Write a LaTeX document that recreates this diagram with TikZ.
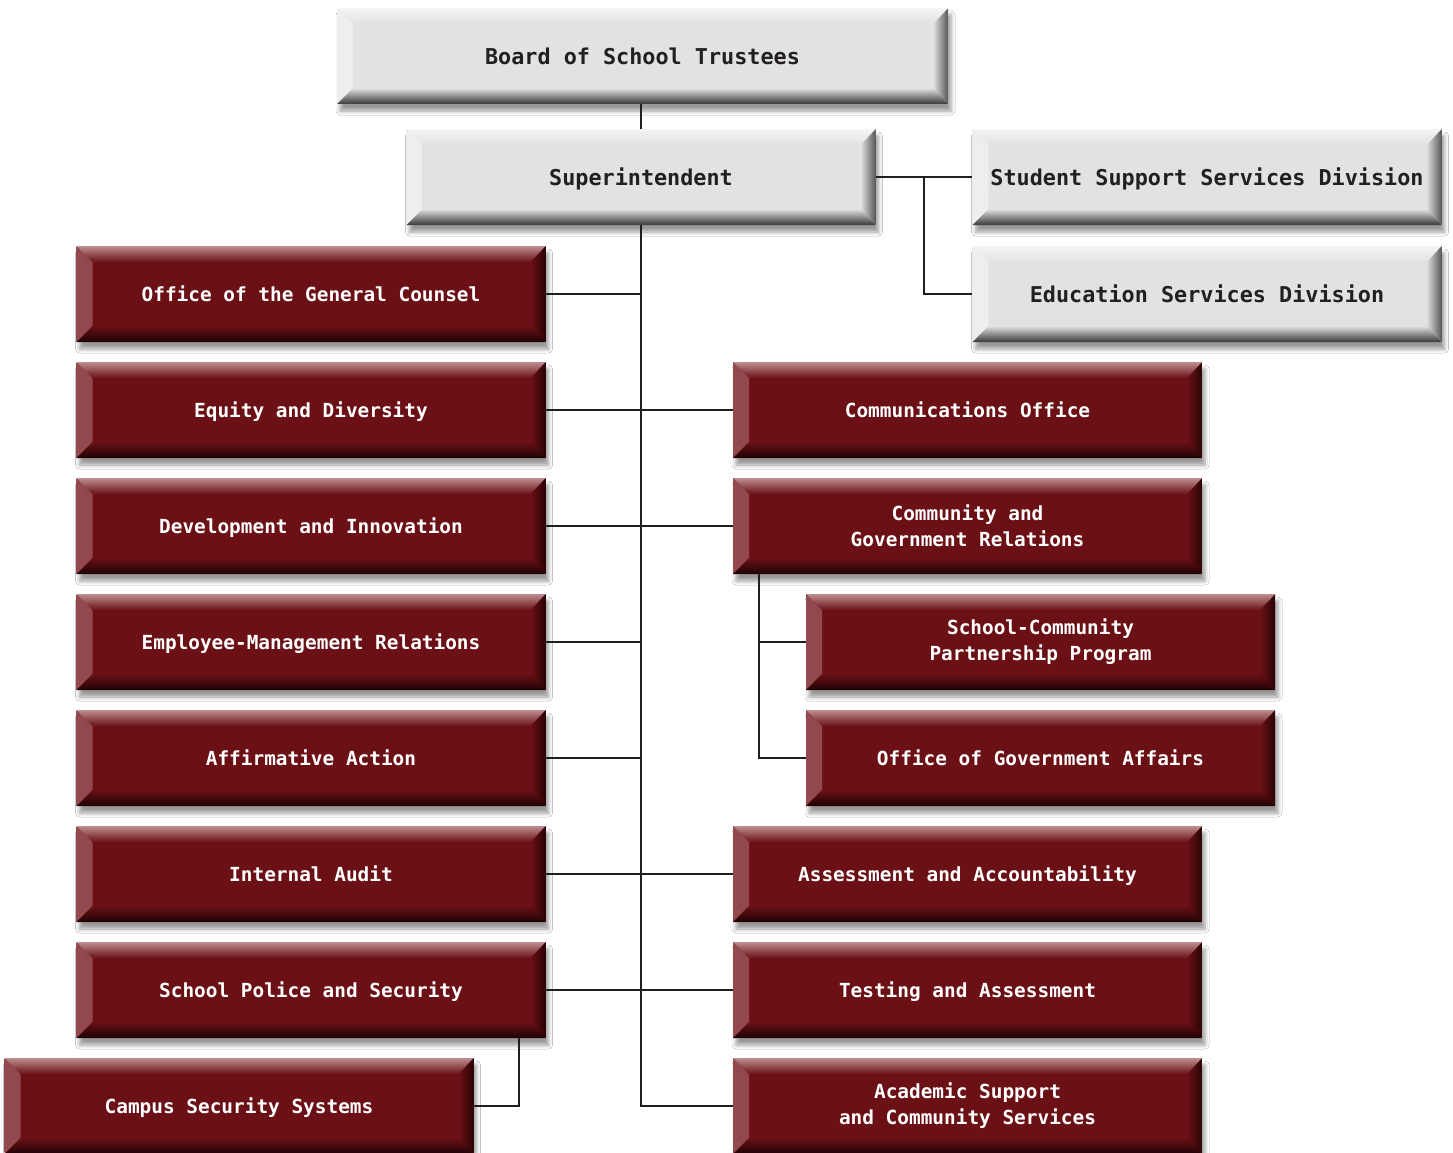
\documentclass[tikz,border=0pt]{standalone}
\usepackage{fontspec}
\setmonofont{DejaVu Sans Mono}
\usetikzlibrary{calc,shadows.blur}
\definecolor{rmain}{HTML}{6B1116}
\definecolor{rtop}{HTML}{BC8E90}
\definecolor{rleft}{HTML}{934A4E}
\definecolor{rbot}{HTML}{1E0204}
\definecolor{rright}{HTML}{2A0306}
\definecolor{gmain}{HTML}{E1E2E4}
\definecolor{gtop}{HTML}{F4F4F5}
\definecolor{gleft}{HTML}{EEEEEF}
\definecolor{gbot}{HTML}{38373A}
\definecolor{gright}{HTML}{58575A}
\definecolor{ink}{HTML}{231F20}
\tikzset{
  bevel/.style n args={5}{
    fill=#1, draw=none, rectangle, inner sep=0pt,
    blur shadow={shadow xshift=3pt, shadow yshift=-7pt, shadow blur radius=4pt, shadow opacity=40},
    path picture={
      \shade[left color=#3, right color=#1] let \p1=(path picture bounding box.south west), \p2=(path picture bounding box.north east) in
        (\x1,\y1) -- (\x1,\y2) -- (\x1+16pt,\y2-16pt) -- (\x1+16pt,\y1+16pt) -- cycle;
      \shade[left color=#1, right color=#5] let \p1=(path picture bounding box.south west), \p2=(path picture bounding box.north east) in
        (\x2,\y1) -- (\x2,\y2) -- (\x2-15pt,\y2-16pt) -- (\x2-15pt,\y1+16pt) -- cycle;
      \shade[top color=#2, bottom color=#1] let \p1=(path picture bounding box.south west), \p2=(path picture bounding box.north east) in
        (\x1,\y2) -- (\x2,\y2) -- (\x2-15pt,\y2-16pt) -- (\x1+16pt,\y2-16pt) -- cycle;
      \shade[top color=#1, bottom color=#4] let \p1=(path picture bounding box.south west), \p2=(path picture bounding box.north east) in
        (\x1,\y1) -- (\x2,\y1) -- (\x2-15pt,\y1+16pt) -- (\x1+16pt,\y1+16pt) -- cycle;
    }
  },
  redbox/.style={bevel={rmain}{rtop}{rleft}{rbot}{rright},
    minimum width=469pt, minimum height=96pt, text=white, align=center,
    font=\fontsize{19.4}{26}\selectfont\ttfamily\bfseries},
  graybox/.style={bevel={gmain}{gtop}{gleft}{gbot}{gright},
    minimum width=469pt, minimum height=96pt, text=ink, align=center,
    font=\fontsize{21.8}{28}\selectfont\ttfamily\bfseries},
  one/.style={text depth=0pt},
  link/.style={draw=ink, line width=1.8pt},
}
\begin{document}
\begin{tikzpicture}[x=1pt,y=-1pt]
\fill[white] (0,0) rectangle (1453,1153);
\useasboundingbox (0,0) rectangle (1453,1153);
% top
\node[graybox, one, minimum width=611pt] (board) at (642.5,56) {Board of School Trustees};
\node[graybox, one] (sup) at (641,177) {Superintendent};
\node[graybox, one] (sss) at (1207,177) {Student Support Services Division};
\node[graybox, one] (esd) at (1207,294) {Education Services Division};
% left column
\node[redbox, one] (ogc) at (311,294) {Office of the General Counsel};
\node[redbox, one] (eqd) at (311,410) {Equity and Diversity};
\node[redbox, one] (dvi) at (311,526) {Development and Innovation};
\node[redbox, one] (emr) at (311,642) {Employee-Management Relations};
\node[redbox, one] (aff) at (311,758) {Affirmative Action};
\node[redbox, one] (iau) at (311,874) {Internal Audit};
\node[redbox, one] (sps) at (311,990) {School Police and Security};
\node[redbox, one] (css) at (239,1106) {Campus Security Systems};
% right column
\node[redbox, one] (com) at (967.5,410) {Communications Office};
\node[redbox] (cgr) at (967.5,526) {Community and\\Government Relations};
\node[redbox] (scp) at (1040.5,642) {School-Community\\Partnership Program};
\node[redbox, one] (oga) at (1040.5,758) {Office of Government Affairs};
\node[redbox, one] (aac) at (967.5,874) {Assessment and Accountability};
\node[redbox, one] (tas) at (967.5,990) {Testing and Assessment};
\node[redbox] (aca) at (967.5,1106) {Academic Support\\and Community Services};
% connectors
\draw[link] (board.south -| sup.south) -- (sup.north);
\draw[link] (sup.south) -- (sup.south |- aca.west) -- (aca.west);
\foreach \n in {ogc,eqd,dvi,emr,aff,iau,sps}
  \draw[link] (\n.east) -- (\n.east -| sup.south);
\foreach \n in {com,cgr,aac,tas}
  \draw[link] (\n.west) -- (\n.west -| sup.south);
\draw[link] (sup.east) -- (sss.west);
\coordinate (brs) at ($(sup.east)!0.5!(sss.west)$);
\draw[link] (brs) |- (esd.west);
\coordinate (brc) at ([xshift=26pt]cgr.south west);
\draw[link] (brc) |- (scp.west);
\draw[link] (brc) |- (oga.west);
\coordinate (brp) at ([xshift=-27pt]sps.south east);
\draw[link] (brp) |- (css.east);
\end{tikzpicture}
\end{document}
